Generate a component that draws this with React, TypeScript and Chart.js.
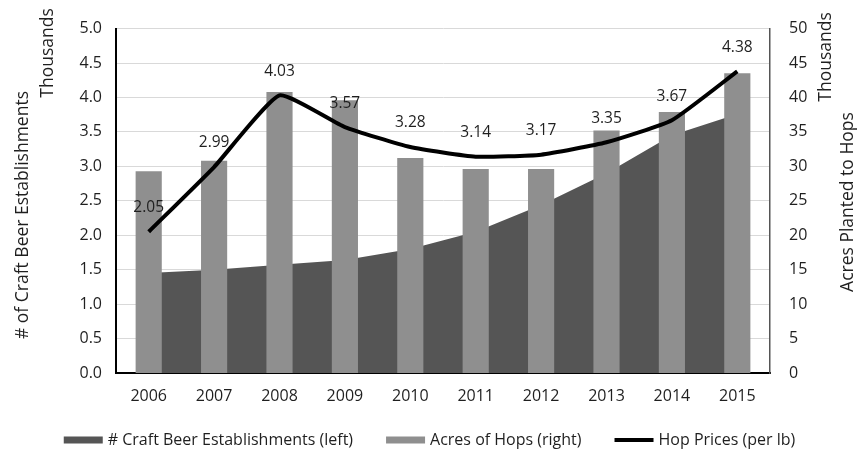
import React, { useEffect, useRef } from "react";
import { Chart, registerables } from "chart.js";

Chart.register(...registerables);

const years = ["2006", "2007", "2008", "2009", "2010", "2011", "2012", "2013", "2014", "2015"];
const craftBeer = [1.45, 1.5, 1.57, 1.64, 1.8, 2.05, 2.44, 2.9, 3.45, 3.76];
const hopAcres = [29.3, 30.8, 40.8, 39.6, 31.2, 29.6, 29.6, 35.2, 37.9, 43.5];
const hopPrices = [2.05, 2.99, 4.03, 3.57, 3.28, 3.14, 3.17, 3.35, 3.67, 4.38];
const legendNames = ["# Craft Beer Establishments (left)", "Acres of Hops (right)", "Hop Prices (per lb)"];
const leftTitle = "# of Craft Beer Establishments";
const rightTitle = "Acres Planted to Hops";
const unitLabel = "Thousands";

const FONT = "'Open Sans', sans-serif";
const TEXT = "#1f1f1f";
const AREA_COLOR = "#555555";
const BAR_COLOR = "#8f8f8f";
const LINE_COLOR = "#000000";

const labelPlugin = {
  id: "extras",
  afterDatasetsDraw(chart: any) {
    const ctx = chart.ctx;
    const meta = chart.getDatasetMeta(2);
    ctx.save();
    ctx.font = `15.5px ${FONT}`;
    ctx.fillStyle = TEXT;
    ctx.textAlign = "center";
    ctx.textBaseline = "middle";
    meta.data.forEach((pt: any, i: number) => {
      ctx.fillText(hopPrices[i].toFixed(2), pt.x, pt.y - 24);
    });
    ctx.restore();
  },
  afterDraw(chart: any) {
    const ctx = chart.ctx;
    const drawRot = (text: string, x: number, y: number) => {
      ctx.save();
      ctx.translate(x, y);
      ctx.rotate(-Math.PI / 2);
      ctx.font = `17.5px ${FONT}`;
      ctx.fillStyle = TEXT;
      ctx.textAlign = "center";
      ctx.textBaseline = "middle";
      ctx.fillText(text, 0, 0);
      ctx.restore();
    };
    drawRot(leftTitle, 23, 215);
    drawRot(unitLabel, 48, 53);
    drawRot(unitLabel, 826, 57);
    drawRot(rightTitle, 848, 202);

    // legend
    ctx.save();
    ctx.font = `16px ${FONT}`;
    const boxW = 39;
    const gapBT = 5;
    const gapItem = 33;
    const widths = legendNames.map((t) => ctx.measureText(t).width);
    const total = widths.reduce((a, w) => a + boxW + gapBT + w, 0) + gapItem * (legendNames.length - 1);
    let x = (chart.width - total) / 2;
    const y = 440;
    const kinds = [
      { color: AREA_COLOR, h: 7 },
      { color: BAR_COLOR, h: 7 },
      { color: LINE_COLOR, h: 4 },
    ];
    legendNames.forEach((t, i) => {
      ctx.fillStyle = kinds[i].color;
      ctx.fillRect(x, y - kinds[i].h / 2, boxW, kinds[i].h);
      x += boxW + gapBT;
      ctx.fillStyle = TEXT;
      ctx.textAlign = "left";
      ctx.textBaseline = "middle";
      ctx.fillText(t, x, y);
      x += widths[i] + gapItem;
    });
    ctx.restore();
  },
};

export default function App() {
  const ref = useRef<HTMLCanvasElement | null>(null);
  useEffect(() => {
    if (!ref.current) return;
    const chart = new Chart(ref.current, {
      type: "bar",
      data: {
        labels: years,
        datasets: [
          {
            type: "line",
            label: legendNames[0],
            data: craftBeer,
            yAxisID: "yL",
            backgroundColor: AREA_COLOR,
            borderColor: AREA_COLOR,
            borderWidth: 0,
            fill: "origin",
            pointRadius: 0,
            tension: 0,
            order: 3,
          } as any,
          {
            type: "bar",
            label: legendNames[1],
            data: hopAcres,
            yAxisID: "yR",
            backgroundColor: BAR_COLOR,
            categoryPercentage: 1,
            barPercentage: 0.4,
            order: 2,
          } as any,
          {
            type: "line",
            label: legendNames[2],
            data: hopPrices,
            yAxisID: "yL",
            borderColor: LINE_COLOR,
            backgroundColor: LINE_COLOR,
            borderWidth: 4,
            pointRadius: 0,
            tension: 0.15,
            fill: false,
            order: 1,
          } as any,
        ],
      },
      options: {
        responsive: false,
        animation: false,
        layout: { padding: { top: 8, bottom: 0, left: 0, right: 0 } },
        plugins: {
          tooltip: { enabled: false },
          legend: { display: false },
        },
        scales: {
          x: {
            grid: { display: false, drawTicks: false },
            border: { display: true, color: "#000000", width: 2 },
            ticks: { font: { family: FONT, size: 16 }, color: TEXT, padding: 14 },
            afterFit: (s: any) => { s.height = 81; },
          },
          yL: {
            position: "left",
            min: 0,
            max: 5,
            ticks: {
              stepSize: 0.5,
              font: { family: FONT, size: 16 },
              color: TEXT,
              padding: 14,
              callback: (v: any) => Number(v).toFixed(1),
            },
            grid: { color: "#d9d9d9", lineWidth: 1, drawTicks: false },
            border: { display: true, color: "#000000", width: 2 },
            afterFit: (s: any) => { s.width = 116; },
          },
          yR: {
            position: "right",
            min: 0,
            max: 50,
            ticks: {
              stepSize: 5,
              font: { family: FONT, size: 16 },
              color: TEXT,
              padding: 19,
            },
            grid: { display: false, drawTicks: false },
            border: { display: true, color: "#555555", width: 1.5 },
            afterFit: (s: any) => { s.width = 89; },
          },
        },
      },
      plugins: [labelPlugin],
    });
    return () => chart.destroy();
  }, []);
  return (
    <div style={{ position: "absolute", left: 0, top: 0, width: 859, height: 454, background: "#fff" }}>
      <canvas ref={ref} width={859} height={454} />
    </div>
  );
}
